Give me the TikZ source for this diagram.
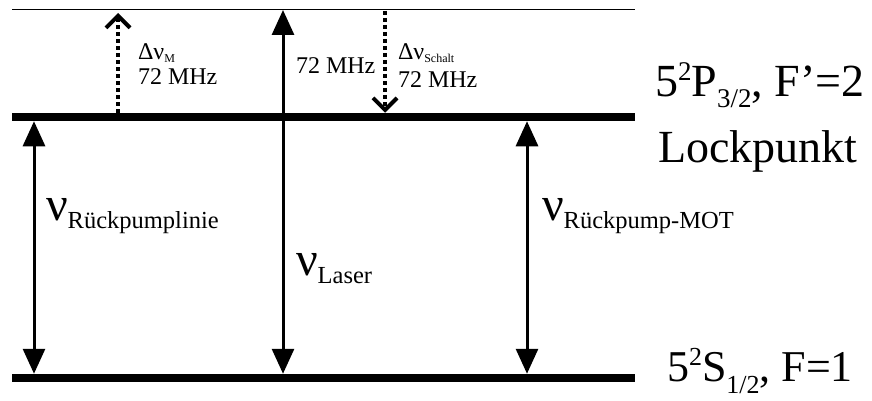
\documentclass[tikz,border=0pt]{standalone}
\usepackage{fontspec}
\setmainfont{Liberation Serif}
\usetikzlibrary{arrows.meta}
\newcommand\fsz[1]{\fontsize{#1}{#1}\selectfont}
\tikzset{
  lvlline/.style={line width=8.5pt},
  toplvlline/.style={line width=1pt},
  transarrow/.style={line width=3pt,{Triangle[length=25pt,width=22pt]}-{Triangle[length=25pt,width=22pt]}},
  dotarrow/.style={line width=4pt,dash pattern=on 4pt off 3pt,-{Straight Barb[length=12pt,width=24pt,line width=4pt]}},
  lbl/.style={anchor=base west,inner sep=0pt,outer sep=0pt},
}
\begin{document}
\begin{tikzpicture}[x=1pt,y=-1pt]
\useasboundingbox (0,0) rectangle (872,401);
% levels
\coordinate (t0) at (12,9.5); \coordinate (t1) at (635,9.5);
\coordinate (p0) at (12,117); \coordinate (p1) at (635,117);
\coordinate (s0) at (12,378); \coordinate (s1) at (635,378);
\draw[toplvlline] (t0) -- (t1);
\draw[lvlline] (p0) -- (p1);
\draw[lvlline] (s0) -- (s1);
% transition end points
\coordinate (a1) at (34,121.25); \coordinate (a2) at (34,373.75);
\coordinate (b1) at (283,10); \coordinate (b2) at (283,373.75);
\coordinate (c1) at (527,121.25); \coordinate (c2) at (527,373.75);
\coordinate (d1) at (118,112.75); \coordinate (d2) at (118,13);
\coordinate (e1) at (385,11); \coordinate (e2) at (385,112.75);
\draw[transarrow] (a1) -- (a2);
\draw[transarrow] (b1) -- (b2);
\draw[transarrow] (c1) -- (c2);
\draw[dotarrow] (d1) -- (d2);
\draw[dotarrow] (e1) -- (e2);
% labels
\node[lbl] (dm) at (138,60) {\fsz{24}Δν\raisebox{-3pt}{\fsz{12}M}};
\node[lbl] (dmf) at (138,85) {\fsz{24}72 MHz};
\node[lbl] (lf) at (296,74) {\fsz{24}72 MHz};
\node[lbl] (ds) at (398,60) {\fsz{24}Δν\raisebox{-3pt}{\fsz{12}Schalt}};
\node[lbl] (dsf) at (398,88) {\fsz{24}72 MHz};
\node[lbl] (nr) at (46,220) {\fsz{48}ν\raisebox{-8pt}{\fsz{24.5}Rückpumplinie}};
\node[lbl] (nl) at (296,275) {\fsz{48}ν\raisebox{-8pt}{\fsz{24.5}Laser}};
\node[lbl] (nm) at (542,220) {\fsz{48}ν\raisebox{-8pt}{\fsz{24.5}Rückpump-MOT}};
\node[lbl] (pl) at (655,97) {\fsz{46}5\raisebox{17pt}{\fsz{27}2}P\raisebox{-11pt}{\fsz{27}3/2}, F’=2};
\node[lbl] (lp) at (658,162) {\fsz{46}Lockpunkt};
\node[lbl] (sl) at (667,381) {\fsz{44}5\raisebox{16pt}{\fsz{26}2}S\raisebox{-12pt}{\fsz{26}1/2}, F=1};
\end{tikzpicture}
\end{document}
